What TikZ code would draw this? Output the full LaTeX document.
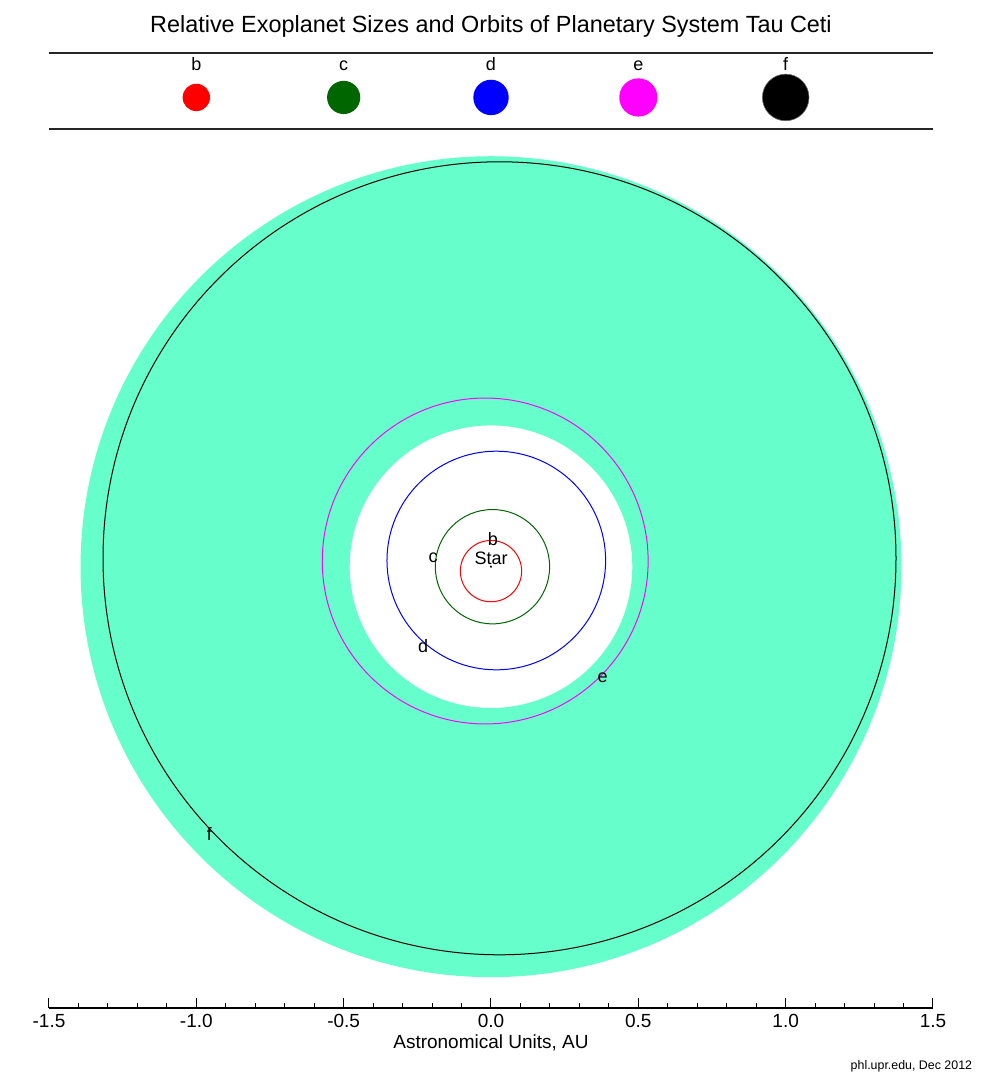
\documentclass[tikz,border=0pt]{standalone}
\usepackage{fontspec}
\setmainfont{Liberation Sans}
\usepackage{tikz}
\usetikzlibrary{positioning}
\definecolor{hzone}{RGB}{102,255,204}
\definecolor{dgreen}{RGB}{0,102,0}
\definecolor{pmagenta}{RGB}{255,0,255}
\definecolor{pred}{RGB}{255,0,0}
\definecolor{pblue}{RGB}{0,0,255}
\tikzset{%
	planet/.style    = {circle, inner sep=0pt, minimum size=#1}, % legend dot
	ptag/.style      = {anchor=base, inner sep=0pt, font=\fontsize{9}{10}\selectfont},
	orbit/.style     = {line width=0.5pt},
	otag/.style      = {inner sep=0pt, font=\fontsize{9}{10}\selectfont},
	rule/.style      = {line width=0.8pt, black!85},
	axisline/.style  = {line width=0.6pt},
	tick/.style      = {line width=0.5pt},
	ticklabel/.style = {anchor=base, inner sep=0pt, font=\fontsize{9.5}{11}\selectfont},
	titletext/.style = {anchor=base, inner sep=0pt, font=\fontsize{11.7}{14}\selectfont},
}

\begin{document}
\begin{tikzpicture}[x=147.33pt, y=147.33pt, node distance=73.67pt]
	\useasboundingbox (-1.6663,-1.7420) rectangle (1.6663,1.9232);

	\node[titletext] (title) at (0,1.8136) {Relative Exoplanet Sizes and Orbits of Planetary System Tau Ceti};

	% legend
	\coordinate (lgtl) at (-1.5,1.7433);
	\coordinate (lgtr) at (1.5,1.7433);
	\coordinate (lgbl) at (-1.5,1.4854);
	\coordinate (lgbr) at (1.5,1.4854);
	\draw[rule] (lgtl) -- (lgtr);
	\draw[rule] (lgbl) -- (lgbr);
	\node[planet=13.7pt, fill=pred] (pb) at (-1,1.5925) {};
	\node[planet=16.6pt, fill=dgreen, right of=pb] (pc) {};
	\node[planet=17.7pt, fill=pblue, right of=pc] (pd) {};
	\node[planet=19.1pt, fill=pmagenta, right of=pd] (pe) {};
	\node[planet=23.3pt, fill=black, draw=black!60, line width=0.3pt, right of=pe] (pf) {};
	\node[ptag] (tb) at (-1,1.685) {b};
	\node[ptag] (tc) at (-0.5,1.685) {c};
	\node[ptag] (td) at (0,1.685) {d};
	\node[ptag] (te) at (0.5,1.685) {e};
	\node[ptag] (tf) at (1,1.685) {f};

	% habitable zone
	\fill[hzone, even odd rule] (0,0) circle (1.393) (0,0) circle (0.4795);

	% orbits
	\coordinate (star) at (0,0);
	\draw[orbit, pred] (0,-0.015) circle (0.104);
	\draw[orbit, dgreen] (0.005,0) circle (0.194);
	\draw[orbit, pblue] (0.018,0.021) circle (0.371);
	\draw[orbit, pmagenta] (-0.0197,0.0193) circle (0.553);
	\draw[orbit, black] (0.0289,0.0285) circle (1.3456);
	\fill (star) circle (0.6pt);
	\node[otag] (sname) at (0.0007,0.028) {Star};
	\node[otag] (ob) at (0.006,0.094) {b};
	\node[otag] (oc) at (-0.196,0.0295) {c};
	\node[otag] (od) at (-0.230,-0.271) {d};
	\node[otag] (oe) at (0.379,-0.376) {e};
	\node[otag] (of) at (-0.9555,-0.907) {f};

	% axis
	\coordinate (axl) at (-1.5,-1.4976);
	\coordinate (axr) at (1.5,-1.4976);
	\draw[axisline] (axl) -- (axr);
	\foreach \i in {-15,...,15}
		\draw[tick] (\i/10,-1.4976) -- ++(0,0.017);
	\foreach \x/\t [count=\k] in {-1.5/-1.5,-1/-1.0,-0.5/-0.5,0/0.0,0.5/0.5,1/1.0,1.5/1.5} {
		\draw[tick] (\x,-1.4976) -- ++(0,0.034);
		\node[ticklabel] (tick\k) at (\x,-1.5655) {\t};
	}
	\node[ticklabel] (xlabel) at (0,-1.6334) {Astronomical Units, AU};
	\node[anchor=base east, inner sep=0pt, font=\fontsize{6.2}{7}\selectfont] (credit) at (1.634,-1.708) {phl.upr.edu, Dec 2012};
\end{tikzpicture}
\end{document}
